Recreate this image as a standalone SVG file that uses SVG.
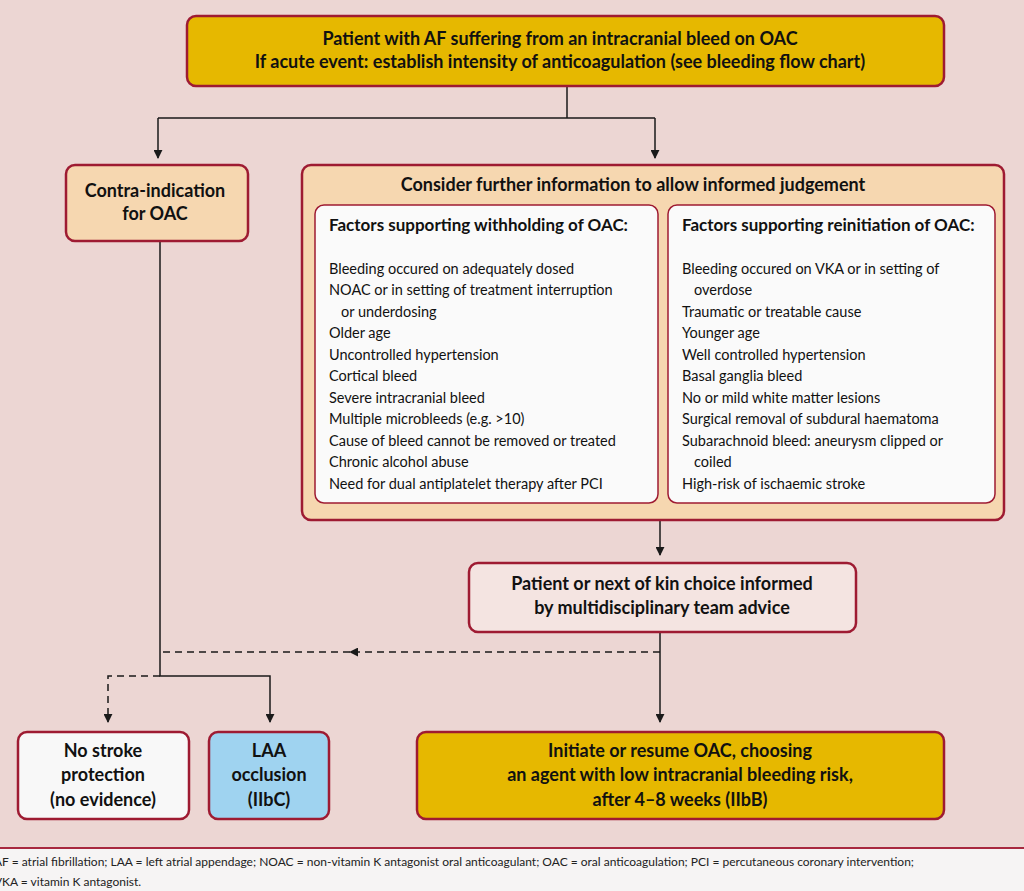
<svg xmlns="http://www.w3.org/2000/svg" width="1024" height="891" viewBox="0 0 1024 891">
<defs>
<marker id="ah" viewBox="0 0 10 10" refX="9" refY="5" markerWidth="9" markerHeight="9" markerUnits="userSpaceOnUse" orient="auto"><path d="M0,0 L10,5 L0,10 z" fill="#1a1a1a"/></marker>
<style>
.box{stroke:#9e1b32;stroke-width:2.5}
.in{stroke:#9e1b32;stroke-width:1.5;fill:#fafafa}
.b{font-family:Lato,"Open Sans",sans-serif;font-weight:bold;font-size:18px;fill:#111;text-anchor:middle}
.t{font-family:Lato,"Open Sans",sans-serif;font-size:14.5px;fill:#111}
.h{font-family:Lato,"Open Sans",sans-serif;font-weight:bold;font-size:17px;fill:#111}
.c{stroke:#1a1a1a;stroke-width:1.5;fill:none}
.d{stroke-dasharray:7,5}
.f{font-family:Lato,"Open Sans",sans-serif;font-size:12px;fill:#222}
</style>
</defs>
<rect width="1024" height="848" fill="#ecd6d3"/>
<rect y="848" width="1024" height="43" fill="#f6f4f4"/>
<line x1="0" y1="848" x2="1024" y2="848" stroke="#a8293f" stroke-width="2"/>
<g id="connectors">
<path class="c" d="M567,86 V118 M158,118 H655"/>
<path class="c" d="M158,118 V158" marker-end="url(#ah)"/>
<path class="c" d="M655,118 V158" marker-end="url(#ah)"/>
<path class="c" d="M660,520 V555" marker-end="url(#ah)"/>
<path class="c" d="M660,632 V722" marker-end="url(#ah)"/>
<path class="c d" d="M660,652 H350" marker-end="url(#ah)"/>
<path class="c d" d="M350,652 H160"/>
<path class="c" d="M160,241 V676 H270 V722" marker-end="url(#ah)"/>
<path class="c d" d="M160,676 H108 V722" marker-end="url(#ah)"/>
</g>
<g id="top"><rect class="box" x="187" y="16" width="757" height="70" rx="9" fill="#e6b800"/>
<text class="b" x="560" y="45">Patient with AF suffering from an intracranial bleed on OAC</text>
<text class="b" x="560" y="68">If acute event: establish intensity of anticoagulation (see bleeding flow chart)</text></g>
<g id="contra"><rect class="box" x="66" y="165" width="182" height="76" rx="9" fill="#f6d7b0"/>
<text class="b" x="155" y="197">Contra-indication</text><text class="b" x="155" y="220">for OAC</text></g>
<g id="consider"><rect class="box" x="302" y="165" width="702" height="355" rx="9" fill="#f6d7b0"/>
<text class="b" x="633" y="191">Consider further information to allow informed judgement</text>
<rect class="in" x="315" y="205" width="343" height="298" rx="9"/>
<rect class="in" x="668" y="205" width="327" height="298" rx="9"/>
<text class="h" x="329" y="231">Factors supporting withholding of OAC:</text>
<text class="h" x="682" y="231">Factors supporting reinitiation of OAC:</text>
<g class="t">
<text x="329" y="274">Bleeding occured on adequately dosed</text>
<text x="329" y="295">NOAC or in setting of treatment interruption</text>
<text x="341" y="317">or underdosing</text>
<text x="329" y="338">Older age</text>
<text x="329" y="360">Uncontrolled hypertension</text>
<text x="329" y="381">Cortical bleed</text>
<text x="329" y="403">Severe intracranial bleed</text>
<text x="329" y="424">Multiple microbleeds (e.g. &gt;10)</text>
<text x="329" y="446">Cause of bleed cannot be removed or treated</text>
<text x="329" y="467">Chronic alcohol abuse</text>
<text x="329" y="489">Need for dual antiplatelet therapy after PCI</text>
<text x="682" y="274">Bleeding occured on VKA or in setting of</text>
<text x="694" y="295">overdose</text>
<text x="682" y="317">Traumatic or treatable cause</text>
<text x="682" y="338">Younger age</text>
<text x="682" y="360">Well controlled hypertension</text>
<text x="682" y="381">Basal ganglia bleed</text>
<text x="682" y="403">No or mild white matter lesions</text>
<text x="682" y="424">Surgical removal of subdural haematoma</text>
<text x="682" y="446">Subarachnoid bleed: aneurysm clipped or</text>
<text x="694" y="467">coiled</text>
<text x="682" y="489">High-risk of ischaemic stroke</text>
</g></g>
<g id="choice"><rect class="box" x="469" y="563" width="387" height="69" rx="9" fill="#f4e4e1"/>
<text class="b" x="662" y="590">Patient or next of kin choice informed</text>
<text class="b" x="662" y="614">by multidisciplinary team advice</text></g>
<g id="nostroke"><rect class="box" x="18" y="732" width="171" height="87" rx="9" fill="#f8f8f8"/>
<text class="b" x="103" y="757">No stroke</text><text class="b" x="103" y="781">protection</text><text class="b" x="103" y="806">(no evidence)</text></g>
<g id="laa"><rect class="box" x="209" y="732" width="120" height="87" rx="9" fill="#9fd3f0"/>
<text class="b" x="269" y="757">LAA</text><text class="b" x="269" y="781">occlusion</text><text class="b" x="269" y="806">(IIbC)</text></g>
<g id="initiate"><rect class="box" x="417" y="732" width="527" height="87" rx="9" fill="#e6b800"/>
<text class="b" x="680" y="757">Initiate or resume OAC, choosing</text><text class="b" x="680" y="781">an agent with low intracranial bleeding risk,</text><text class="b" x="680" y="806">after 4–8 weeks (IIbB)</text></g>
<text class="f" x="-6" y="866">AF = atrial fibrillation; LAA = left atrial appendage; NOAC = non-vitamin K antagonist oral anticoagulant; OAC = oral anticoagulation; PCI = percutaneous coronary intervention;</text>
<text class="f" x="-6" y="886">VKA = vitamin K antagonist.</text>
</svg>
